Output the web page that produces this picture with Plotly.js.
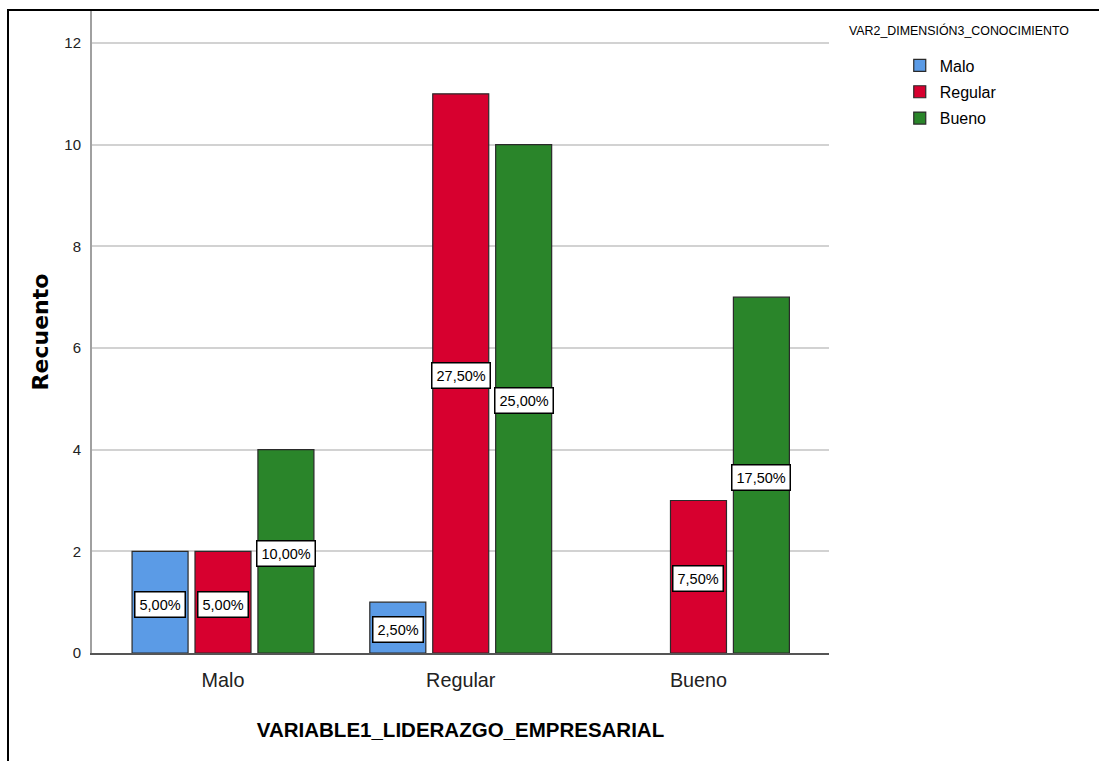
<!DOCTYPE html>
<html>
<head>
<meta charset="utf-8">
<script src="https://cdn.plot.ly/plotly-3.0.1.min.js"></script>
<style>
  html, body { margin: 0; padding: 0; background: #ffffff; }
  #wrap { position: relative; width: 1099px; height: 761px; overflow: hidden; }
  #frame { position: absolute; left: 7px; top: 9px; width: 1200px; height: 900px;
           border-left: 2px solid #000; border-top: 2px solid #000; pointer-events: none; }
  #chart { position: absolute; left: 0; top: 0; width: 1099px; height: 761px; }
</style>
</head>
<body>
<div id="wrap">
  <div id="chart"></div>
  <div id="frame"></div>
</div>
<script>
// ---- data ----
const categories = ["Malo", "Regular", "Bueno"];          // VARIABLE1_LIDERAZGO_EMPRESARIAL
const seriesNames = ["Malo", "Regular", "Bueno"];         // VAR2_DIMENSIÓN3_CONOCIMIENTO
const malo    = [2, 1, 0];
const regular = [2, 11, 3];
const bueno   = [4, 10, 7];
const seriesColors = ["#5b9be6", "#d7002f", "#2a852a"];
const yTicks = [0, 2, 4, 6, 8, 10, 12];
const legendTitle = "VAR2_DIMENSIÓN3_CONOCIMIENTO";
const xTitle = "VARIABLE1_LIDERAZGO_EMPRESARIAL";
const yTitle = "Recuento";

const SANS = "'Liberation Sans', Arial, sans-serif";
const series = [malo, regular, bueno];
const total = series.reduce((s, arr) => s + arr.reduce((a, b) => a + b, 0), 0);
const fmtPct = v => (v / total * 100).toFixed(2).replace(".", ",") + "%";

const bargap = 0.206, bargroupgap = 0.11;
const slot = (1 - bargap) / series.length;

const traces = series.map((vals, i) => ({
  type: "bar",
  name: seriesNames[i],
  legendgroup: "g" + i,
  x: categories.map((c, k) => k),
  y: vals.map(v => v === 0 ? null : v),
  marker: { color: seriesColors[i], line: { color: "#2a2a2a", width: 1.2 } },
  hoverinfo: "skip"
}));

const annotations = [];
series.forEach((vals, i) => {
  vals.forEach((v, k) => {
    if (v > 0) {
      annotations.push({
        xref: "x", yref: "y",
        x: k + (i - (series.length - 1) / 2) * slot,
        y: v / 2, yshift: -2,
        text: fmtPct(v), showarrow: false,
        font: { family: SANS, size: 14.5, color: "#000" },
        bgcolor: "#ffffff", bordercolor: "#000000", borderwidth: 1.5, borderpad: 4
      });
    }
  });
});
annotations.push({
  xref: "paper", yref: "paper", x: 1.1764, y: 0.970,
  xanchor: "center", yanchor: "middle",
  text: legendTitle, showarrow: false,
  font: { family: SANS, size: 12.4, color: "#000" }
});

const layout = {
  width: 1099, height: 761,
  margin: { l: 92, r: 270, t: 11, b: 108, pad: 0 },
  paper_bgcolor: "rgba(0,0,0,0)", plot_bgcolor: "#ffffff",
  barmode: "group", bargap: bargap, bargroupgap: bargroupgap,
  showlegend: true,
  legend: {
    x: 1.096, y: 0.9415, xanchor: "left", yanchor: "top",
    font: { family: SANS, size: 16, color: "#000" },
    itemwidth: 30, traceorder: "grouped", tracegroupgap: 2.5, bgcolor: "rgba(0,0,0,0)"
  },
  xaxis: {
    type: "linear", range: [-0.551, 2.549],
    tickvals: categories.map((c, k) => k), ticktext: categories,
    tickfont: { family: SANS, size: 19.8, color: "#222" },
    ticks: "", ticklabelstandoff: 9, showgrid: false, zeroline: false,
    showline: true, linecolor: "#555", linewidth: 1.5,
    title: { text: xTitle, font: { family: SANS, size: 20.5, color: "#000", weight: "bold" }, standoff: 32 },
    automargin: false, fixedrange: true
  },
  yaxis: {
    range: [0, 12.63], tickvals: yTicks,
    tickfont: { family: SANS, size: 15, color: "#222" },
    ticks: "", ticklabelstandoff: 6,
    showgrid: true, gridcolor: "#d2d2d2", gridwidth: 2,
    zeroline: false, showline: true, linecolor: "#a0a0a0", linewidth: 2,
    title: { text: yTitle, font: { family: "'DejaVu Sans', sans-serif", size: 22, color: "#000", weight: "bold" }, standoff: 10 },
    automargin: false, fixedrange: true
  },
  annotations: annotations
};

Plotly.newPlot("chart", traces, layout, { displayModeBar: false, staticPlot: true });
</script>
</body>
</html>
